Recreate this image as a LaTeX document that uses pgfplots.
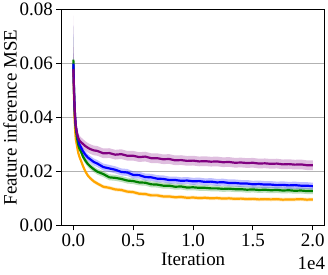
\documentclass[border=0pt]{standalone}
\usepackage{fontspec}
\setmainfont{Liberation Serif}
\usepackage{pgfplots}
\usepackage{pgfplotstable}
\pgfplotsset{compat=1.18}
\usepgfplotslibrary{fillbetween}
\definecolor{mpurple}{RGB}{128,0,128}
\definecolor{mblue}{RGB}{0,0,255}
\definecolor{mgreen}{RGB}{0,128,0}
\definecolor{morange}{RGB}{255,165,0}
\pgfplotstableread{
it p b g o s
0 .0580 .0600 .0615 .0590 11
50 .0500 .0510 .0500 .0480 5
100 .0440 .0440 .0430 .0400 3
150 .0400 .0400 .0390 .0350 2.2
200 .0370 .0370 .0360 .0320 1.8
300 .0340 .0340 .0325 .0295 1.4
400 .0325 .0320 .0300 .0270 1.2
500 .0315 .0300 .0285 .0255 1
650 .0308 .0288 .0272 .0238 1
800 .0302 .0275 .0255 .0220 1
1000 .0294 .0262 .0240 .0200 1
1200 .0288 .0252 .0228 .0185 1
1400 .0283 .0245 .0219 .0175 1
1700 .0278 .0235 .0208 .0163 1
2000 .0276 .0229 .0199 .0155 1
2500 .0267 .0216 .0190 .0143 1
3000 .0268 .0211 .0178 .0139 1
3500 .0262 .0206 .0176 .0133 1
4000 .0264 .0198 .0172 .0131 1
4500 .0258 .0196 .0166 .0125 1
5000 .0258 .0187 .0164 .0123 1
5500 .0253 .0186 .0159 .0117 1
6000 .0255 .0179 .0158 .0116 1
6500 .0249 .0178 .0152 .0111 1
7000 .0249 .0173 .0151 .0111 1
7500 .0245 .0172 .0147 .0107 1
8000 .0246 .0168 .0147 .0107 1
8500 .0241 .0168 .0143 .0104 1
9000 .0242 .0165 .0144 .0105 1
9500 .0239 .0166 .0140 .0102 1
10000 .0240 .0163 .0141 .0103 1
10500 .0237 .0164 .0139 .0101 1
11000 .0238 .0161 .0139 .0102 1
11500 .0236 .0162 .0137 .0100 1
12000 .0237 .0159 .0137 .0101 1
12500 .0234 .0160 .0135 .0099 1
13000 .0235 .0157 .0136 .0100 1
13500 .0232 .0157 .0134 .0098 1
14000 .0233 .0155 .0134 .0099 1
14500 .0231 .0155 .0132 .0097 1
15000 .0232 .0152 .0133 .0098 1
15500 .0229 .0153 .0131 .0096 1
16000 .0230 .0151 .0132 .0097 1
16500 .0228 .0151 .0130 .0096 1
17000 .0229 .0149 .0131 .0097 1
17500 .0226 .0150 .0129 .0095 1
18000 .0227 .0148 .0130 .0096 1
18500 .0225 .0149 .0128 .0096 1
19000 .0226 .0147 .0129 .0097 1
19500 .0223 .0147 .0127 .0095 1
20000 .0223 .0145 .0127 .0096 1
}\data
\begin{document}
\begin{tikzpicture}
\begin{axis}[
  scale only axis,
  width=264pt, height=216pt,
  xmin=-1000, xmax=21000,
  ymin=0, ymax=0.08,
  xtick={0,5000,10000,15000,20000},
  xticklabels={0.0,0.5,1.0,1.5,2.0},
  scaled x ticks=false,
  ytick={0,0.02,0.04,0.06,0.08},
  yticklabel style={/pgf/number format/.cd, fixed, fixed zerofill, precision=2},
  /pgf/number format/assume math mode=true,
  scaled y ticks=false,
  tick align=outside,
  tick pos=left,
  major tick length=5pt,
  tick style={black, line width=1pt},
  axis line style={line width=1.2pt},
  ymajorgrids,
  grid style={color=black!30, line width=1.2pt},
  tick label style={font=\fontsize{19}{22}\selectfont},
  label style={font=\fontsize{19}{22}\selectfont},
  xlabel={Iteration},
  ylabel={Feature inference MSE},
  xlabel style={yshift=1pt},
  ylabel style={yshift=-4pt},
  clip mode=individual,
]
\addplot[draw=none, name path=ou, forget plot] table[x=it, y expr=\thisrow{o}+0.0007*\thisrow{s}] {\data};
\addplot[draw=none, name path=ol, forget plot] table[x=it, y expr=\thisrow{o}-0.0007*\thisrow{s}] {\data};
\addplot[morange, fill opacity=0.25, draw=none] fill between[of=ou and ol];
\addplot[draw=none, name path=gu, forget plot] table[x=it, y expr=\thisrow{g}+0.0011*\thisrow{s}] {\data};
\addplot[draw=none, name path=gl, forget plot] table[x=it, y expr=\thisrow{g}-0.0011*\thisrow{s}] {\data};
\addplot[mgreen, fill opacity=0.25, draw=none] fill between[of=gu and gl];
\addplot[draw=none, name path=bu, forget plot] table[x=it, y expr=\thisrow{b}+0.0013*\thisrow{s}] {\data};
\addplot[draw=none, name path=bl, forget plot] table[x=it, y expr=\thisrow{b}-0.0013*\thisrow{s}] {\data};
\addplot[mblue, fill opacity=0.25, draw=none] fill between[of=bu and bl];
\addplot[draw=none, name path=pu, forget plot] table[x=it, y expr=\thisrow{p}+0.0018*\thisrow{s}] {\data};
\addplot[draw=none, name path=pl, forget plot] table[x=it, y expr=\thisrow{p}-0.0018*\thisrow{s}] {\data};
\addplot[mpurple, fill opacity=0.25, draw=none] fill between[of=pu and pl];
\addplot[morange, line width=2.2pt] table[x=it, y=o] {\data};
\addplot[mgreen, line width=2.2pt] table[x=it, y=g] {\data};
\addplot[mblue, line width=2.2pt] table[x=it, y=b] {\data};
\addplot[mpurple, line width=2.2pt] table[x=it, y=p] {\data};
\end{axis}
\node[anchor=north east, font=\fontsize{19}{22}\selectfont, inner sep=1.5pt] (sc) at ([yshift=-30pt, xshift=2pt]current axis.south east) {1e4};
\path ([yshift=-3pt]sc.south east);
\end{tikzpicture}
\end{document}
